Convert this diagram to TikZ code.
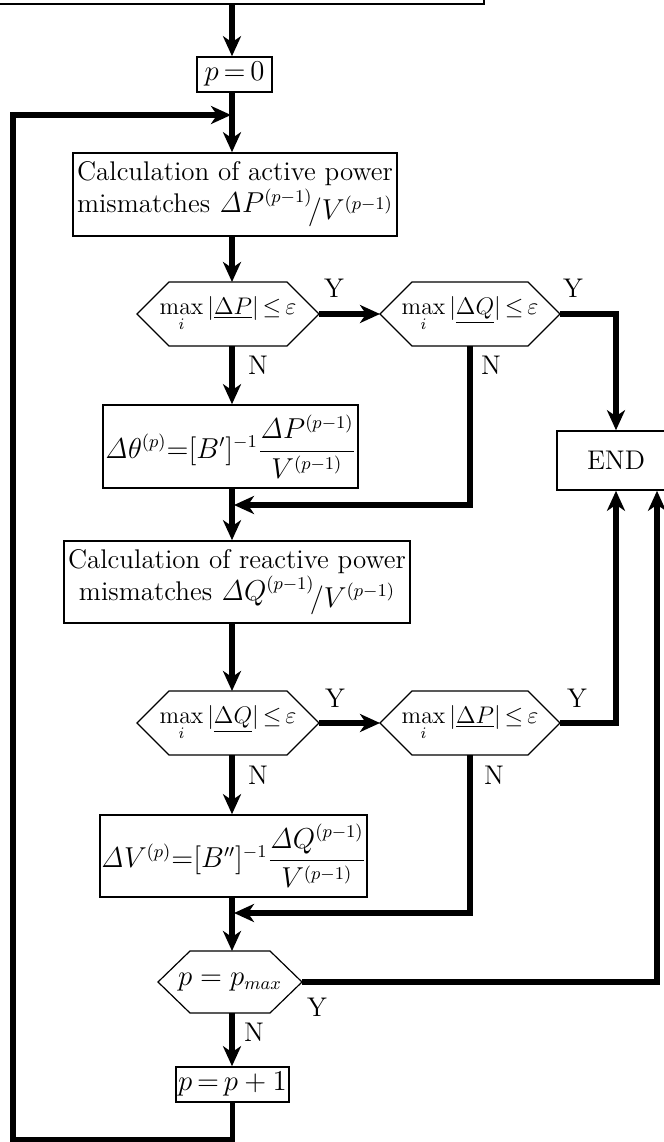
\documentclass[tikz,border=0pt]{standalone}
\usepackage{amsmath,amssymb}
\usepackage{tikz}
\usetikzlibrary{arrows.meta}

\newcommand{\dlt}{\mathit{\Delta}}
% hexagonal outline round a decision node
\newcommand{\hexdraw}[1]{\draw[line width=0.6pt] (#1.west) -- ([xshift=16pt]#1.north west)
  -- ([xshift=-16pt]#1.north east) -- (#1.east) -- ([xshift=-16pt]#1.south east)
  -- ([xshift=16pt]#1.south west) -- cycle;}

\begin{document}
\begin{tikzpicture}[x=0.5pt,y=-0.5pt,
  every node/.style={font=\fontsize{13.5}{16}\selectfont},
  box/.style={draw,line width=0.8pt,inner sep=0.5pt,align=center},
  dec/.style={minimum height=32pt,inner sep=0pt,outer sep=0pt,font=\fontsize{12}{14}\selectfont},
  flow/.style={line width=2.8pt,-{Stealth[length=10pt,width=9pt,inset=3pt]}},
  yn/.style={inner sep=0pt}]
\useasboundingbox (0,0) rectangle (664,1142);
% main axis of the chart (px, y downwards)
\coordinate (axis) at (232,0);
% boxes
\node[box,minimum width=284pt,minimum height=40pt] (start) at (200,-36) {};
\node[box,minimum width=37.5pt,minimum height=17.5pt] (p0) at (234.5,74.5) {$p\,{=}\,0$};
\node[box,minimum width=162pt,minimum height=41.5pt] (calcP) at (235,194.5)
  {Calculation of active power\\ mismatches $\dlt P^{(p-1)}\raisebox{-0.6ex}{$\!/V^{(p-1)}$}$};
\node[dec,minimum width=91pt] (dec1) at (228,314) {$\max\limits_i|\underline{\Delta P}|\,{\le}\,\varepsilon$};
\node[dec,minimum width=90pt] (dec2) at (470,314) {$\max\limits_i|\underline{\Delta Q}|\,{\le}\,\varepsilon$};
\node[box,minimum width=127.5pt,minimum height=41.5pt] (dth) at (230.5,446.5)
  {$\dlt\theta^{(p)}{=}[B']^{-1}\dfrac{\dlt P^{(p-1)}}{V^{(p-1)}}$};
\node[box,minimum width=59pt,minimum height=29.5pt] (end) at (616,460.5) {END};
\node[box,minimum width=173pt,minimum height=41pt] (calcQ) at (237,582)
  {Calculation of reactive power\\ mismatches $\dlt Q^{(p-1)}\raisebox{-0.6ex}{$\!/V^{(p-1)}$}$};
\node[dec,minimum width=91pt] (dec3) at (228,723) {$\max\limits_i|\underline{\Delta Q}|\,{\le}\,\varepsilon$};
\node[dec,minimum width=90pt] (dec4) at (470,723) {$\max\limits_i|\underline{\Delta P}|\,{\le}\,\varepsilon$};
\node[box,minimum width=132.5pt,minimum height=41pt] (dV) at (233.5,856)
  {$\dlt V^{(p)}{=}[B'']^{-1}\dfrac{\dlt Q^{(p-1)}}{V^{(p-1)}}$};
\node[dec,minimum width=72pt,minimum height=31pt,font=\fontsize{13.5}{16}\selectfont] (dec5) at (230,982) {$p=p_{max}$};
\node[box,minimum width=56.5pt,minimum height=17.5pt] (pinc) at (232.5,1084.5) {$p\,{=}\,p+1$};
\hexdraw{dec1} \hexdraw{dec2} \hexdraw{dec3} \hexdraw{dec4} \hexdraw{dec5}
% Y / N labels
\node[yn] (y1) at (334,288) {Y};
\node[yn] (y2) at (573,288) {Y};
\node[yn] (n1) at (258,365) {N};
\node[yn] (n2) at (491,365) {N};
\node[yn] (y3) at (335,698) {Y};
\node[yn] (y4) at (577,698) {Y};
\node[yn] (n3) at (258,775) {N};
\node[yn] (n4) at (494,775) {N};
\node[yn] (y5) at (317,1007) {Y};
\node[yn] (n5) at (254,1032) {N};
% corner points
\coordinate (mergeA) at (234,505);
\coordinate (mergeB) at (234,913);
\coordinate (loopB) at (13,1140);
\coordinate (loopT) at (13,115);
\coordinate (loopIn) at (231,115);
% flow lines
\draw[flow] (start.south -| axis) -- (p0.north -| axis);
\draw[flow] (p0.south -| axis) -- (calcP.north -| axis);
\draw[flow] (calcP.south -| axis) -- (dec1.north -| axis);
\draw[flow] (dec1) -- (dec2);
\draw[flow] (dec2.east) -| (end.north);
\draw[flow] (dec1.south -| axis) -- (dth.north -| axis);
\draw[flow] (dec2.south) |- (mergeA);
\draw[flow] (dth.south -| axis) -- (calcQ.north -| axis);
\draw[flow] (calcQ.south -| axis) -- (dec3.north -| axis);
\draw[flow] (dec3) -- (dec4);
\draw[flow] (dec4.east) -| (end.south);
\draw[flow] (dec3.south -| axis) -- (dV.north -| axis);
\draw[flow] (dec4.south) |- (mergeB);
\draw[flow] (dV.south -| axis) -- (dec5.north -| axis);
\draw[flow] (dec5.east) -| ([xshift=20.5pt]end.south);
\draw[flow] (dec5.south -| axis) -- (pinc.north -| axis);
\draw[flow] (pinc.south) |- (loopB) -- (loopT) -- (loopIn);
\end{tikzpicture}
\end{document}
